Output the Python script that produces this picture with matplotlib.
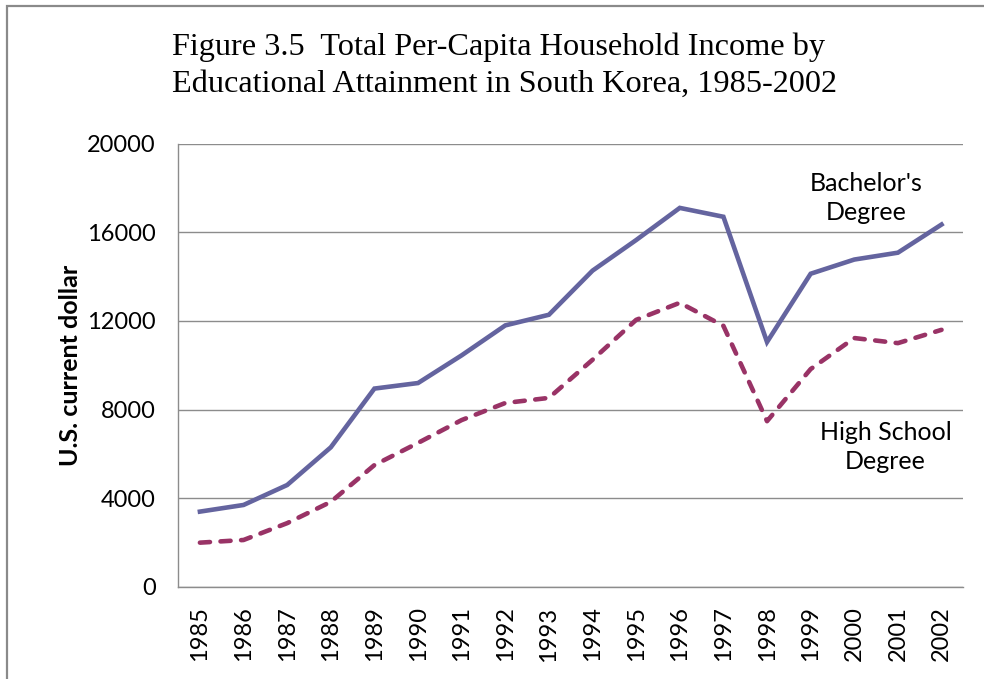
import matplotlib.pyplot as plt
from matplotlib.patches import Rectangle
import numpy as np

years = [str(y) for y in range(1985, 2003)]
bachelor = [3400, 3700, 4600, 6300, 8950, 9200, 10450, 11800, 12280, 14270,
            15650, 17100, 16700, 11050, 14130, 14770, 15080, 16350]
high_school = [2000, 2120, 2880, 3840, 5500, 6500, 7530, 8300, 8530, 10250,
               12050, 12820, 11780, 7480, 9830, 11230, 11000, 11600]
yticks = [0, 4000, 8000, 12000, 16000, 20000]

fig = plt.figure(figsize=(9.84, 6.79), dpi=100)
ax = fig.add_axes([0.181, 0.1355, 0.798, 0.653])

# chart frame (only left and top edges fall inside the picture)
fig.patches.append(Rectangle((0.0072, -0.05), 1.2, 1.0412, transform=fig.transFigure,
                             fill=False, edgecolor='#8a8a8a', linewidth=1.6))

x = np.arange(len(years))
ax.plot(x, bachelor, color='#64649f', linewidth=3.3, solid_joinstyle='miter')
ax.plot(x, high_school, color='#993366', linewidth=3.3, linestyle=(0, (2.2, 2.3)),
        dash_capstyle='round')

ax.set_xlim(-0.5, len(years) - 0.5)
ax.set_ylim(0, 20000)
ax.set_yticks(yticks)
ax.set_yticklabels([str(v) for v in yticks], fontfamily='Lato', fontsize=17)
ax.set_xticks(x)
ax.set_xticklabels(years, rotation=90, fontfamily='Lato', fontsize=17)
ax.tick_params(axis='y', length=0, pad=16)
ax.tick_params(axis='x', length=0, pad=14)
ax.grid(axis='y', color='#8c8c8c', linewidth=1)
ax.set_axisbelow(True)
for s in ['top', 'right']:
    ax.spines[s].set_visible(False)
for s in ['left', 'bottom']:
    ax.spines[s].set_color('#8c8c8c')
    ax.spines[s].set_linewidth(1)

ax.set_ylabel('U.S. current dollar', fontfamily='Lato', fontsize=18, fontweight='bold', labelpad=4)

ax.text(15.28, 17560, "Bachelor's\nDegree", fontfamily='Lato', fontsize=18,
        ha='center', va='center', linespacing=1.32)
ax.text(15.72, 6320, "High School\nDegree", fontfamily='Lato', fontsize=18,
        ha='center', va='center', linespacing=1.32)

fig.text(0.175, 0.903, 'Figure 3.5  Total Per-Capita Household Income by\n'
         'Educational Attainment in South Korea, 1985-2002',
         fontfamily='Liberation Serif', fontsize=23.2, ha='left', va='center', linespacing=1.38)

plt.savefig('out.png', dpi=100)
